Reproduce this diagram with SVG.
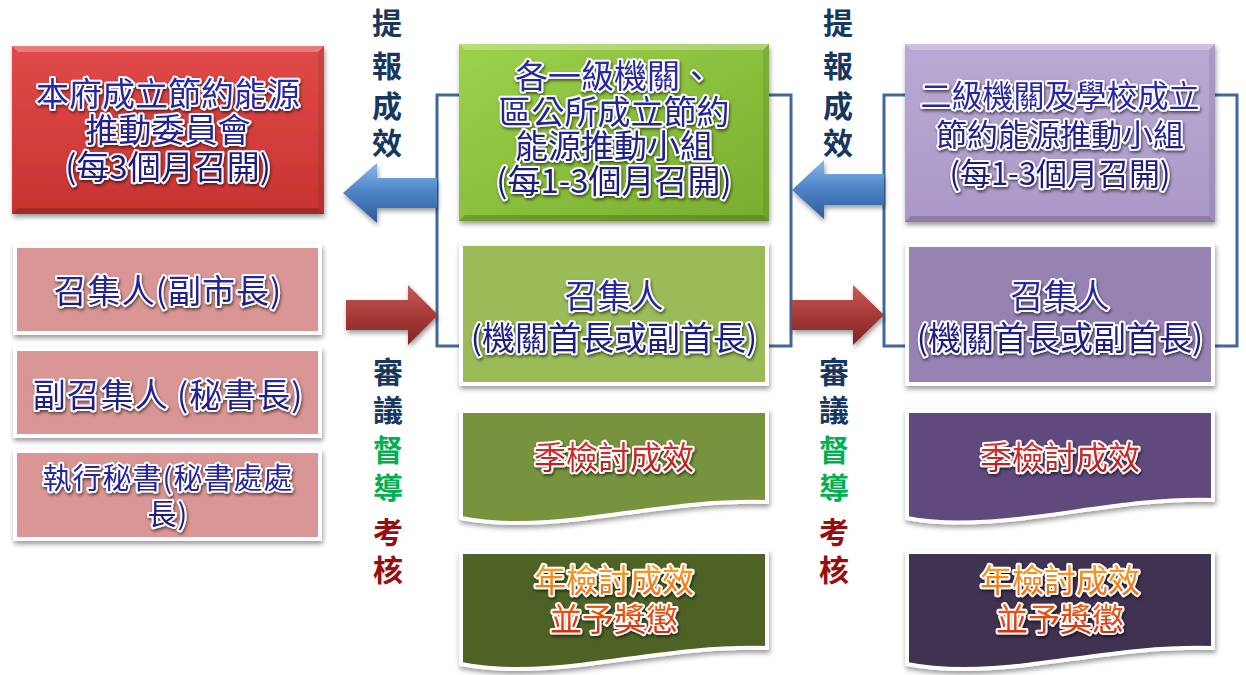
<svg xmlns="http://www.w3.org/2000/svg" width="1246" height="675" viewBox="0 0 1246 675">
<defs>
<filter id="sh" x="-10%" y="-10%" width="120%" height="130%"><feDropShadow dx="1" dy="3" stdDeviation="2.5" flood-color="#000" flood-opacity="0.4"/></filter>
<filter id="ts" x="-10%" y="-20%" width="120%" height="150%"><feDropShadow dx="1" dy="2" stdDeviation="1.5" flood-color="#000" flood-opacity="0.55"/></filter>
<linearGradient id="gRed" x1="0" y1="0" x2="0" y2="1"><stop offset="0" stop-color="#e04a48"/><stop offset="1" stop-color="#c93332"/></linearGradient>
<linearGradient id="gGrn" x1="0" y1="0" x2="1" y2="1"><stop offset="0" stop-color="#9ed14a"/><stop offset="1" stop-color="#78ad30"/></linearGradient>
<linearGradient id="gPur" x1="0" y1="0" x2="0" y2="1"><stop offset="0" stop-color="#baa9d4"/><stop offset="1" stop-color="#ab98c8"/></linearGradient>
<linearGradient id="gBlue" x1="0" y1="0" x2="0" y2="1"><stop offset="0" stop-color="#8ab8ec"/><stop offset="0.45" stop-color="#4f86c8"/><stop offset="1" stop-color="#2c5c99"/></linearGradient>
<linearGradient id="gRA" x1="0" y1="0" x2="0" y2="1"><stop offset="0" stop-color="#c85a57"/><stop offset="0.5" stop-color="#a63a38"/><stop offset="1" stop-color="#7f2424"/></linearGradient>
<linearGradient id="gNavy" x1="0" y1="0" x2="0" y2="1"><stop offset="0" stop-color="#2b2bb0"/><stop offset="1" stop-color="#1a1a78"/></linearGradient>
<linearGradient id="gRT" x1="0" y1="0" x2="0" y2="1"><stop offset="0" stop-color="#e03a3a"/><stop offset="1" stop-color="#b01818"/></linearGradient>
<linearGradient id="gOT" x1="0" y1="0" x2="0" y2="1"><stop offset="0" stop-color="#ffb020"/><stop offset="0.6" stop-color="#f05a10"/><stop offset="1" stop-color="#d02010"/></linearGradient>
</defs>
<style>
.t{font-family:"Noto Sans CJK TC","Noto Sans CJK SC",sans-serif;text-anchor:middle;fill:url(#gNavy);stroke:#fff;stroke-width:4;stroke-linejoin:round;paint-order:stroke;filter:url(#ts)}
.tr{fill:url(#gRT)}
.to{fill:url(#gOT)}
.v{font-family:"Noto Sans CJK TC","Noto Sans CJK SC",sans-serif;font-weight:bold;font-size:30px;text-anchor:middle}
.nv{fill:#17375e}.gn{fill:#00b050}.dr{fill:#960f0f}
.card{stroke:#fff;stroke-width:4;filter:url(#sh)}
.bt{fill:#fff;opacity:0.28}.bb{fill:#000;opacity:0.18}.bs{fill:#000;opacity:0.08}
.br{fill:none;stroke:#41689c;stroke-width:3}
</style>

<g id="connectors">
<path class="br" d="M459,95 H437 V346 H461"/>
<path class="br" d="M769,95 H791 V346 H767"/>
<path class="br" d="M905,95 H884 V346 H907"/>
<path class="br" d="M1215,95 H1237 V346 H1213"/>
<path d="M437,178 H377 V163 L343,193 L377,223 V208 H437 Z" fill="url(#gBlue)" filter="url(#sh)"/>
<path d="M884,174 H824 V160 L792,190 L824,219 V205 H884 Z" fill="url(#gBlue)" filter="url(#sh)"/>
<path d="M346,300 H408 V285 L438,315 L408,345 V330 H346 Z" fill="url(#gRA)" filter="url(#sh)"/>
<path d="M792,300 H853 V285 L884,315 L853,345 V330 H792 Z" fill="url(#gRA)" filter="url(#sh)"/>
</g>

<g id="label-tibao-1">
<text class="v nv"><tspan x="387" y="34">提</tspan><tspan x="387" y="77">報</tspan><tspan x="387" y="117">成</tspan><tspan x="387" y="154">效</tspan></text>
</g>
<g id="label-tibao-2">
<text class="v nv"><tspan x="838" y="34">提</tspan><tspan x="838" y="77">報</tspan><tspan x="838" y="117">成</tspan><tspan x="838" y="154">效</tspan></text>
</g>
<g id="label-shenyi-1">
<text class="v"><tspan class="nv" x="388" y="383">審</tspan><tspan class="nv" x="388" y="421">議</tspan><tspan class="gn" x="388" y="461">督</tspan><tspan class="gn" x="388" y="499">導</tspan><tspan class="dr" x="388" y="543">考</tspan><tspan class="dr" x="388" y="581">核</tspan></text>
</g>
<g id="label-shenyi-2">
<text class="v"><tspan class="nv" x="834" y="383">審</tspan><tspan class="nv" x="834" y="421">議</tspan><tspan class="gn" x="834" y="461">督</tspan><tspan class="gn" x="834" y="499">導</tspan><tspan class="dr" x="834" y="543">考</tspan><tspan class="dr" x="834" y="581">核</tspan></text>
</g>

<g id="node-city-committee">
<rect x="12" y="46" width="312" height="168" fill="url(#gRed)" filter="url(#sh)"/>
<polygon class="bt" points="12,46 324,46 318,52 18,52"/>
<polygon class="bb" points="12,214 324,214 318,208 18,208"/>
<polygon class="bs" points="324,46 324,214 318,208 318,52"/>
<text class="t" font-size="33"><tspan x="168" y="106">本府成立節約能源</tspan><tspan x="168" y="142">推動委員會</tspan><tspan x="168" y="179">(每3個月召開)</tspan></text>
</g>

<g id="node-convener-city">
<rect class="card" x="15" y="246" width="305" height="87" fill="#d99694"/>
<text class="t" font-size="33" letter-spacing="1" x="168" y="303">召集人(副市長)</text>
</g>
<g id="node-deputy-convener">
<rect class="card" x="15" y="349" width="305" height="87" fill="#d99694"/>
<text class="t" font-size="33" letter-spacing="1" x="168" y="407">副召集人 (秘書長)</text>
</g>
<g id="node-exec-secretary">
<rect class="card" x="15" y="451" width="305" height="88" fill="#d99694"/>
<text class="t" font-size="29" letter-spacing="1"><tspan x="168" y="489">執行秘書(秘書處處</tspan><tspan x="168" y="525">長)</tspan></text>
</g>

<g id="node-level1-group">
<rect x="459" y="44" width="310" height="177" fill="url(#gGrn)" filter="url(#sh)"/>
<polygon class="bt" points="459,44 769,44 763,50 465,50"/>
<polygon class="bb" points="459,221 769,221 763,215 465,215"/>
<polygon class="bs" points="769,44 769,221 763,215 763,50"/>
<text class="t" font-size="33"><tspan x="614" y="88">各一級機關、</tspan><tspan x="614" y="124">區公所成立節約</tspan><tspan x="614" y="158">能源推動小組</tspan><tspan x="614" y="193">(每1-3個月召開)</tspan></text>
</g>
<g id="node-level1-convener">
<rect class="card" x="461" y="244" width="306" height="140" fill="#9bbb59"/>
<text class="t" font-size="33"><tspan x="614" y="308">召集人</tspan><tspan x="614" y="350">(機關首長或副首長)</tspan></text>
</g>
<g id="node-level1-quarter">
<path class="card" d="M461,411 H767 V502 C700,500 640,512 580,519 C530,525 490,524 461,518 Z" fill="#77933c"/>
<text class="t tr" font-size="32" x="614" y="469">季檢討成效</text>
</g>
<g id="node-level1-year">
<path class="card" d="M461,552 H767 V648 C700,646 640,658 580,665 C530,671 490,670 461,664 Z" fill="#4f6228"/>
<text class="t to" font-size="32"><tspan x="614" y="592">年檢討成效</tspan><tspan x="614" y="631">並予獎懲</tspan></text>
</g>

<g id="node-level2-group">
<rect x="905" y="44" width="310" height="178" fill="url(#gPur)" filter="url(#sh)"/>
<polygon class="bt" points="905,44 1215,44 1209,50 911,50"/>
<polygon class="bb" points="905,222 1215,222 1209,216 911,216"/>
<polygon class="bs" points="1215,44 1215,222 1209,216 1209,50"/>
<text class="t" font-size="31"><tspan x="1060" y="107">二級機關及學校成立</tspan><tspan x="1060" y="146">節約能源推動小組</tspan><tspan x="1060" y="185">(每1-3個月召開)</tspan></text>
</g>
<g id="node-level2-convener">
<rect class="card" x="907" y="245" width="306" height="139" fill="#9782b4"/>
<text class="t" font-size="33"><tspan x="1060" y="308">召集人</tspan><tspan x="1060" y="350">(機關首長或副首長)</tspan></text>
</g>
<g id="node-level2-quarter">
<path class="card" d="M907,411 H1213 V500 C1146,498 1086,511 1026,518 C976,524 936,524 907,518 Z" fill="#604a7b"/>
<text class="t tr" font-size="32" x="1060" y="469">季檢討成效</text>
</g>
<g id="node-level2-year">
<path class="card" d="M907,552 H1213 V648 C1146,646 1086,658 1026,665 C976,671 936,670 907,664 Z" fill="#3f3151"/>
<text class="t to" font-size="32"><tspan x="1060" y="592">年檢討成效</tspan><tspan x="1060" y="631">並予獎懲</tspan></text>
</g>
</svg>
